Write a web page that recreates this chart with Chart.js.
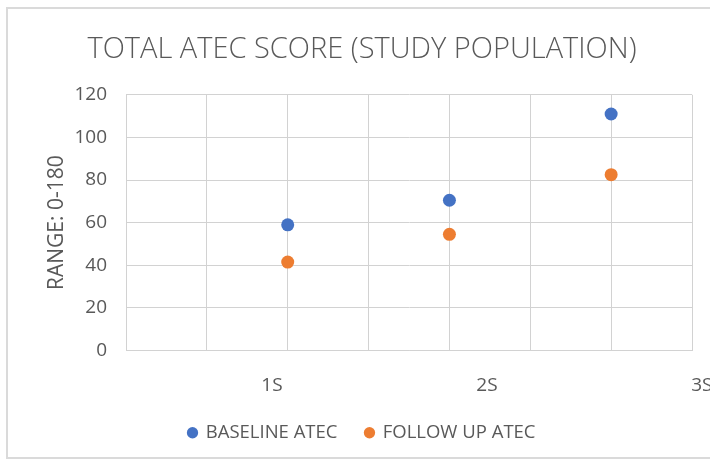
<!DOCTYPE html>
<html>
<head>
<meta charset="utf-8">
<script src="https://cdn.jsdelivr.net/npm/chart.js@4.4.0/dist/chart.umd.min.js"></script>
<style>
  html, body { margin: 0; padding: 0; background: #ffffff; }
  #wrap { width: 710px; height: 463px; }
</style>
</head>
<body>
<div id="wrap"><canvas id="chart" width="710" height="463"></canvas></div>
<script>
// Sessions and total ATEC scores
const sessions = [1, 2, 3];
const sessionLabels = ['1S', '2S', '3S'];
const baselineAtec = [59, 70.5, 111];
const followUpAtec = [41.5, 54.5, 82.5];
const yTicks = [0, 20, 40, 60, 80, 100, 120];

const TEXT = '#595959';
const GRID = '#d2d2d2';
const FONT = "'Open Sans', 'Liberation Sans', sans-serif";

const toPoints = (ys) => sessions.map((x, i) => ({ x, y: ys[i] }));

// Light outer frame around the chart
const framePlugin = {
  id: 'frame',
  beforeDraw(chart) {
    const ctx = chart.ctx;
    ctx.save();
    ctx.fillStyle = '#ffffff';
    ctx.fillRect(0, 0, chart.width, chart.height);
    ctx.strokeStyle = '#dadada';
    ctx.lineWidth = 2;
    ctx.strokeRect(7, 8, chart.width + 20, chart.height - 13);
    ctx.restore();
  }
};

new Chart(document.getElementById('chart'), {
  type: 'scatter',
  data: {
    datasets: [
      {
        label: 'BASELINE ATEC',
        data: toPoints(baselineAtec),
        backgroundColor: '#4472C4',
        borderColor: '#4472C4',
        borderWidth: 0,
        pointRadius: 6.5,
        pointHoverRadius: 6.5,
        xAxisID: 'x',
        yAxisID: 'y'
      },
      {
        label: 'FOLLOW UP ATEC',
        data: toPoints(followUpAtec),
        backgroundColor: '#ED7D31',
        borderColor: '#ED7D31',
        borderWidth: 0,
        pointRadius: 6.5,
        pointHoverRadius: 6.5,
        xAxisID: 'x',
        yAxisID: 'y'
      }
    ]
  },
  options: {
    responsive: false,
    animation: false,
    events: [],
    layout: { padding: { left: 32, right: 18, top: 0, bottom: 11 } },
    plugins: {
      tooltip: { enabled: false },
      title: {
        display: true,
        text: 'TOTAL ATEC SCORE (STUDY POPULATION)',
        color: TEXT,
        font: { family: FONT, size: 29, weight: '300' },
        padding: { top: 32, bottom: 28 }
      },
      legend: {
        position: 'bottom',
        labels: {
          usePointStyle: true,
          pointStyle: 'circle',
          boxWidth: 8,
          boxHeight: 8,
          padding: 28,
          color: TEXT,
          font: { family: FONT, size: 18.5 }
        }
      }
    },
    scales: {
      x: {
        type: 'linear',
        position: 'bottom',
        min: 0,
        max: 3.5,
        grid: { color: GRID, lineWidth: 1, drawTicks: false },
        border: { display: true, color: GRID, width: 1 },
        ticks: { display: false, stepSize: 0.5 },
        afterFit(scale) {
          scale.height = 0;
        }
      },
      x2: {
        type: 'linear',
        axis: 'x',
        position: 'bottom',
        min: 0.321,
        max: 2.954,
        grid: { display: false, drawTicks: false },
        border: { display: false },
        afterBuildTicks(scale) {
          scale.ticks = sessions.map((v) => ({ value: v }));
        },
        afterFit(scale) {
          scale.paddingLeft = 0;
          scale.paddingRight = 0;
          scale.height = 45;
        },
        ticks: {
          autoSkip: false,
          maxRotation: 0,
          padding: 24,
          color: TEXT,
          font: { family: FONT, size: 19 },
          callback: (value, index) => sessionLabels[index]
        }
      },
      y: {
        type: 'linear',
        min: yTicks[0],
        max: yTicks[yTicks.length - 1],
        afterBuildTicks(scale) {
          scale.ticks = yTicks.map((v) => ({ value: v }));
        },
        afterFit(scale) {
          scale.width = 94;
        },
        grid: { color: GRID, lineWidth: 1, drawTicks: false },
        border: { display: true, color: GRID, width: 1 },
        ticks: {
          padding: 19,
          color: TEXT,
          font: { family: FONT, size: 19 }
        },
        title: {
          display: true,
          text: 'RANGE: 0-180',
          color: TEXT,
          padding: { top: 12, bottom: 0 },
          font: { family: FONT, size: 21 }
        }
      }
    }
  },
  plugins: [framePlugin]
});
</script>
</body>
</html>
